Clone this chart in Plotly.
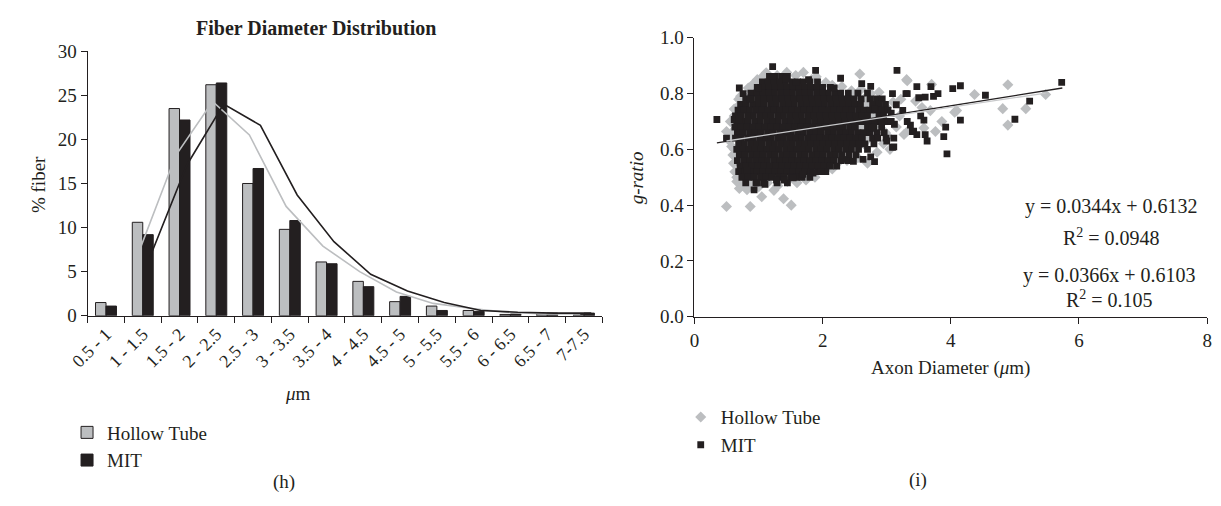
import plotly.graph_objects as go

# ---------------- Data: left chart (h) ----------------
categories = ["0.5 - 1", "1 - 1.5", "1.5 - 2", "2 - 2.5", "2.5 - 3", "3 - 3.5", "3.5 - 4",
              "4 - 4.5", "4.5 - 5", "5 - 5.5", "5.5 - 6", "6 - 6.5", "6.5 - 7", "7-7.5"]
hollow_pct = [1.5, 10.6, 23.5, 26.2, 15.0, 9.8, 6.1, 3.9, 1.6, 1.1, 0.6, 0.15, 0.2, 0.15]
mit_pct = [1.1, 9.2, 22.2, 26.4, 16.7, 10.8, 5.9, 3.3, 2.2, 0.6, 0.5, 0.2, 0.3, 0.3]
# moving-average trend lines (start at second category)
hollow_ma = [7.3, 18.2, 24.3, 20.5, 12.4, 7.9, 5.0, 2.7, 1.4, 0.85, 0.4, 0.2, 0.2]
mit_ma = [6.7, 17.1, 24.0, 21.6, 13.7, 8.4, 4.7, 2.8, 1.5, 0.6, 0.4, 0.3, 0.3]

# ---------------- Data: right chart (i) ----------------
# MIT dense core, row by row (g-ratio level, axon diameters)
mit_core_y = [0.862, 0.842, 0.822, 0.802, 0.781, 0.761, 0.741, 0.720, 0.700, 0.680,
              0.660, 0.640, 0.620, 0.600, 0.580, 0.560, 0.540, 0.520, 0.500, 0.480]
mit_core_x = [
    [1.17, 1.26, 1.36, 1.45],
    [1.06, 1.15, 1.24, 1.33, 1.42, 1.52, 1.61, 1.70, 1.80, 1.92],
    [0.98, 1.07, 1.16, 1.26, 1.35, 1.44, 1.54, 1.63, 1.72, 1.82, 1.91, 2.00, 2.12],
    [0.88, 0.97, 1.07, 1.16, 1.25, 1.35, 1.44, 1.53, 1.63, 1.72, 1.81, 1.91, 2.00, 2.09, 2.19, 2.28, 2.40, 2.55, 2.70],
    [0.80, 0.89, 0.99, 1.08, 1.18, 1.27, 1.36, 1.46, 1.55, 1.65, 1.74, 1.83, 1.93, 2.02, 2.12, 2.21, 2.30, 2.40, 2.49, 2.60, 2.74, 2.84, 2.93],
    [0.72, 0.81, 0.91, 1.00, 1.09, 1.19, 1.28, 1.38, 1.47, 1.56, 1.66, 1.75, 1.85, 1.94, 2.03, 2.13, 2.22, 2.32, 2.41, 2.50, 2.59, 2.78, 2.88, 2.98],
    [0.68, 0.77, 0.86, 0.96, 1.05, 1.15, 1.24, 1.33, 1.43, 1.52, 1.62, 1.71, 1.80, 1.90, 1.99, 2.09, 2.18, 2.27, 2.37, 2.46, 2.56, 2.65, 2.74, 2.84, 2.93, 3.02],
    [0.64, 0.73, 0.83, 0.92, 1.02, 1.11, 1.20, 1.30, 1.39, 1.49, 1.58, 1.67, 1.77, 1.86, 1.96, 2.05, 2.14, 2.24, 2.33, 2.43, 2.52, 2.61, 2.70, 2.88, 2.95],
    [0.66, 0.75, 0.84, 0.94, 1.03, 1.13, 1.22, 1.31, 1.41, 1.50, 1.60, 1.69, 1.78, 1.88, 1.97, 2.07, 2.16, 2.25, 2.35, 2.44, 2.54, 2.63, 2.72, 2.82, 2.91, 3.00],
    [0.63, 0.72, 0.82, 0.91, 1.01, 1.10, 1.19, 1.29, 1.38, 1.48, 1.57, 1.66, 1.76, 1.85, 1.95, 2.04, 2.13, 2.23, 2.32, 2.42, 2.51, 2.70, 2.80, 2.92],
    [0.67, 0.76, 0.86, 0.95, 1.04, 1.14, 1.23, 1.33, 1.42, 1.51, 1.61, 1.70, 1.80, 1.89, 1.98, 2.08, 2.17, 2.27, 2.36, 2.45, 2.55, 2.64, 2.74, 2.85, 2.96],
    [0.64, 0.73, 0.83, 0.92, 1.02, 1.11, 1.20, 1.30, 1.39, 1.49, 1.58, 1.67, 1.77, 1.86, 1.96, 2.05, 2.14, 2.24, 2.33, 2.43, 2.52, 2.62, 2.78, 2.86],
    [0.69, 0.78, 0.88, 0.97, 1.06, 1.16, 1.25, 1.35, 1.44, 1.53, 1.63, 1.72, 1.82, 1.91, 2.00, 2.10, 2.19, 2.29, 2.38, 2.47, 2.57, 2.66, 2.80],
    [0.66, 0.76, 0.85, 0.95, 1.04, 1.13, 1.23, 1.32, 1.42, 1.51, 1.60, 1.70, 1.79, 1.89, 1.98, 2.07, 2.17, 2.26, 2.36, 2.45, 2.56, 2.70],
    [0.70, 0.79, 0.89, 0.98, 1.07, 1.17, 1.26, 1.36, 1.45, 1.54, 1.64, 1.73, 1.83, 1.92, 2.01, 2.11, 2.20, 2.30, 2.41, 2.52],
    [0.67, 0.77, 0.86, 0.96, 1.05, 1.14, 1.24, 1.33, 1.43, 1.52, 1.61, 1.71, 1.80, 1.90, 1.99, 2.08, 2.18, 2.29, 2.40],
    [0.71, 0.80, 0.90, 0.99, 1.08, 1.18, 1.27, 1.37, 1.46, 1.55, 1.65, 1.74, 1.84, 1.93, 2.02, 2.12, 2.22],
    [0.69, 0.79, 0.88, 0.98, 1.07, 1.16, 1.26, 1.35, 1.45, 1.54, 1.63, 1.73, 1.82, 1.92, 2.05],
    [0.74, 0.84, 0.93, 1.03, 1.12, 1.21, 1.31, 1.40, 1.50, 1.59, 1.68, 1.80],
    [0.80, 0.96, 1.08, 1.29, 1.45],
]
# MIT scattered points
mit_extra_x = [0.35, 0.50, 0.62, 0.70, 0.70, 0.87, 0.93, 1.00, 1.22, 1.22, 1.43, 1.58, 1.78, 1.89, 2.28,
               2.61, 2.75, 1.54, 1.69, 1.85, 1.97, 2.31, 2.48, 2.63, 2.75, 2.81, 2.99, 3.09, 3.12, 3.32,
               3.42, 3.60, 3.63, 3.50, 3.07, 2.81, 2.92, 2.77, 3.16, 3.32, 3.47, 3.69, 3.73, 3.80, 3.60,
               3.09, 3.30, 4.03, 4.15, 4.54, 5.73, 5.23, 5.00, 4.15, 3.92, 3.89, 3.94, 3.47, 3.58, 3.53,
               3.37, 3.40, 3.11, 3.11, 3.07, 3.00, 3.15, 3.25, 0.98, 1.10, 1.28, 1.40, 0.76, 0.82, 2.18]
mit_extra_y = [0.707, 0.640, 0.707, 0.707, 0.820, 0.780, 0.455, 0.820, 0.897, 0.862, 0.853, 0.840, 0.850, 0.883, 0.855,
               0.836, 0.826, 0.498, 0.510, 0.515, 0.520, 0.564, 0.557, 0.564, 0.573, 0.556, 0.640, 0.607, 0.690, 0.700,
               0.665, 0.653, 0.630, 0.785, 0.730, 0.745, 0.700, 0.675, 0.883, 0.800, 0.825, 0.825, 0.790, 0.800, 0.787,
               0.800, 0.800, 0.818, 0.828, 0.794, 0.840, 0.773, 0.708, 0.705, 0.680, 0.646, 0.584, 0.653, 0.705, 0.720,
               0.687, 0.664, 0.640, 0.609, 0.700, 0.630, 0.760, 0.740, 0.480, 0.475, 0.490, 0.490, 0.800, 0.525, 0.820]
# Hollow Tube points
hollow_x = [0.50, 0.87, 1.05, 1.24, 1.39, 1.51, 0.50, 0.55, 0.60, 0.58, 0.63, 0.61, 0.66, 0.73, 0.70,
            0.65, 0.62, 0.66, 0.69, 0.78, 0.88, 1.00, 1.14, 1.30, 1.45, 1.60, 1.74, 1.88, 2.02, 2.15,
            2.23, 2.38, 2.55, 2.70, 2.41, 2.64, 2.85, 2.95, 0.78, 0.90, 1.05, 1.15, 1.29, 1.44, 1.58,
            1.70, 1.83, 1.90, 2.05, 2.15, 2.30, 2.45, 2.58, 2.60, 2.75, 2.88, 3.31, 3.00, 3.10, 3.20,
            2.95, 3.05, 3.32, 3.70, 4.37, 4.09, 3.45, 3.68, 3.86, 3.76, 3.35, 3.27, 3.15, 3.02, 3.58,
            4.06, 4.89, 5.48, 4.81, 5.17, 4.89, 3.22, 3.55, 2.85, 2.80, 2.70, 1.20, 1.50, 1.80, 2.10,
            1.00, 1.30, 2.00, 2.40, 0.62, 0.72, 0.84, 0.92, 0.98, 1.06, 1.12, 0.74, 0.82, 0.66, 2.68,
            2.79, 2.61, 2.72, 2.64, 2.50, 2.98, 0.58, 0.56, 0.62]
hollow_y = [0.395, 0.395, 0.430, 0.453, 0.423, 0.400, 0.664, 0.630, 0.580, 0.610, 0.520, 0.550, 0.500, 0.475, 0.460,
            0.690, 0.720, 0.750, 0.780, 0.470, 0.475, 0.465, 0.480, 0.470, 0.485, 0.480, 0.490, 0.500, 0.530, 0.530,
            0.550, 0.560, 0.570, 0.550, 0.610, 0.620, 0.590, 0.620, 0.790, 0.815, 0.850, 0.865, 0.865, 0.876, 0.865,
            0.876, 0.850, 0.860, 0.840, 0.830, 0.825, 0.810, 0.870, 0.815, 0.800, 0.805, 0.850, 0.750, 0.770, 0.720,
            0.700, 0.600, 0.846, 0.833, 0.797, 0.739, 0.773, 0.739, 0.700, 0.664, 0.670, 0.653, 0.680, 0.647, 0.677,
            0.733, 0.832, 0.797, 0.746, 0.746, 0.687, 0.780, 0.750, 0.760, 0.680, 0.730, 0.700, 0.650, 0.720, 0.660,
            0.600, 0.560, 0.780, 0.700, 0.745, 0.790, 0.820, 0.835, 0.850, 0.860, 0.875, 0.470, 0.455, 0.485, 0.760,
            0.720, 0.680, 0.640, 0.780, 0.790, 0.660, 0.660, 0.700, 0.600]
# linear trend lines (end points)
hollow_trend_x = [0.50, 5.48]
hollow_trend_y = [0.630, 0.802]
mit_trend_x = [0.35, 5.74]
mit_trend_y = [0.623, 0.820]

# ---------------- Styles ----------------
W, H = 1221, 506
INK = "#231f20"
GREY = "#bcbec0"
FONT = "Liberation Serif"
FS = 19

def px(x, y):
    return x / W, 1 - y / H

mit_x = [x for row in mit_core_x for x in row] + mit_extra_x
mit_y = [y for y, row in zip(mit_core_y, mit_core_x) for _ in row] + mit_extra_y

idx = list(range(len(categories)))
ma_idx = idx[1:]

fig = go.Figure()

# Left chart
fig.add_bar(x=idx, y=hollow_pct, name="Hollow Tube", xaxis="x", yaxis="y", legend="legend",
            marker=dict(color=GREY, line=dict(color=INK, width=1)))
fig.add_bar(x=idx, y=mit_pct, name="MIT", xaxis="x", yaxis="y", legend="legend",
            marker=dict(color=INK, line=dict(color=INK, width=1)))
fig.add_scatter(x=[i - 0.1 for i in ma_idx], y=hollow_ma, mode="lines", xaxis="x", yaxis="y",
                line=dict(color=GREY, width=1.6), showlegend=False, hoverinfo="skip")
fig.add_scatter(x=[i + 0.2 for i in ma_idx], y=mit_ma, mode="lines", xaxis="x", yaxis="y",
                line=dict(color=INK, width=1.6), showlegend=False, hoverinfo="skip")

# Right chart
fig.add_scatter(x=hollow_x, y=hollow_y, mode="markers", name="Hollow Tube", xaxis="x2", yaxis="y2",
                legend="legend2", marker=dict(symbol="diamond", size=8.5, color=GREY))
fig.add_scatter(x=mit_x, y=mit_y, mode="markers", name="MIT", xaxis="x2", yaxis="y2",
                legend="legend2", marker=dict(symbol="square", size=6.8, color=INK))
fig.add_scatter(x=mit_trend_x, y=mit_trend_y, mode="lines", xaxis="x2", yaxis="y2",
                line=dict(color=INK, width=1.3), showlegend=False, hoverinfo="skip")
fig.add_scatter(x=hollow_trend_x, y=hollow_trend_y, mode="lines", xaxis="x2", yaxis="y2",
                line=dict(color="#c8c9cb", width=1.3), showlegend=False, hoverinfo="skip")

axis_common = dict(showgrid=False, zeroline=False, showline=True, linecolor=INK, linewidth=1,
                   tickcolor=INK)
tickfont = dict(family=FONT, size=FS, color=INK)

fig.update_layout(
    width=W, height=H, margin=dict(l=0, r=0, t=0, b=0),
    paper_bgcolor="white", plot_bgcolor="white",
    font=dict(family=FONT, size=FS, color=INK),
    barmode="group", bargap=0.43, bargroupgap=0,
    xaxis=dict(domain=[70 / W, 595 / W], range=[-0.5, 13.5], anchor="y",
               tickmode="array", tickvals=idx, ticktext=categories, tickangle=-45, ticks="",
               tickfont=dict(family=FONT, size=18, color=INK),
               minor=dict(ticks="outside", tick0=0.5, dtick=1, ticklen=6, tickcolor=INK),
               **axis_common),
    yaxis=dict(domain=[1 - 319 / H, 1 - 43 / H], range=[0, 30], dtick=5, anchor="x",
               ticks="outside", ticklen=6, tickfont=tickfont, **axis_common),
    xaxis2=dict(domain=[689 / W, 1212 / W], range=[0, 8], dtick=2, anchor="y2",
                ticks="outside", ticklen=6, tickfont=tickfont, **axis_common),
    yaxis2=dict(domain=[1 - 320 / H, 1 - 29 / H], range=[0, 1], dtick=0.2, tickformat=".1f",
                anchor="x2", ticks="outside", ticklen=6, tickfont=tickfont, **axis_common),
    legend=dict(x=49 / W, y=1 - 421 / H, xanchor="left", yanchor="top",
                bgcolor="rgba(0,0,0,0)", font=dict(family=FONT, size=FS, color=INK),
                tracegroupgap=0, itemclick=False),
    legend2=dict(x=675 / W, y=1 - 405 / H, xanchor="left", yanchor="top",
                 bgcolor="rgba(0,0,0,0)", font=dict(family=FONT, size=FS, color=INK),
                 tracegroupgap=0, itemclick=False),
    showlegend=True,
)

def ann(text, x, y, size=FS, angle=0, bold=False):
    ax, ay = px(x, y)
    fig.add_annotation(text=f"<b>{text}</b>" if bold else text, x=ax, y=ay, xref="paper", yref="paper",
                       showarrow=False, textangle=angle, xanchor="center", yanchor="middle",
                       font=dict(family=FONT, size=size, color=INK))

ann("Fiber Diameter Distribution", 303, 19, size=20, bold=True)
ann("% fiber", 20, 182, angle=-90)
ann("<i>μ</i>m", 285, 400)
ann("(h)", 270, 492)
ann("<i>g-ratio</i>", 630, 175, angle=-90)
ann("Axon Diameter (<i>μ</i>m)", 950, 373)
ann("(i)", 917, 490)
ann("y = 0.0344x + 0.6132", 1114, 205, size=20)
ann("R<sup>2</sup> = 0.0948", 1114, 237, size=20)
ann("y = 0.0366x + 0.6103", 1112, 277, size=20)
ann("R<sup>2</sup> = 0.105", 1112, 302, size=20)

fig.write_html("out.html")
